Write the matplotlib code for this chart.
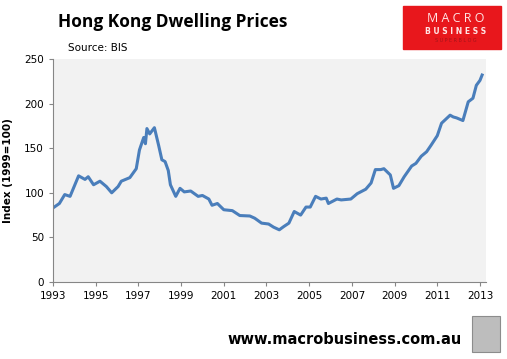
import numpy as np
import matplotlib.pyplot as plt
from matplotlib.patches import Rectangle

# Hong Kong dwelling price index (1999=100)
years = [1993.0, 1993.3, 1993.55, 1993.8, 1994.2, 1994.5, 1994.65, 1994.9,
         1995.2, 1995.5, 1995.75, 1996.05, 1996.2, 1996.6, 1996.9, 1997.05,
         1997.25, 1997.33, 1997.4, 1997.53, 1997.75, 1997.95, 1998.1, 1998.25,
         1998.4, 1998.5, 1998.75, 1998.95, 1999.15, 1999.45, 1999.8, 2000.0,
         2000.3, 2000.45, 2000.7, 2001.0, 2001.4, 2001.75, 2002.22, 2002.45,
         2002.77, 2003.1, 2003.33, 2003.6, 2003.8, 2004.05, 2004.3, 2004.6,
         2004.85, 2005.05, 2005.3, 2005.55, 2005.8, 2005.9, 2006.3, 2006.5,
         2006.95, 2007.25, 2007.65, 2007.9, 2008.1, 2008.35, 2008.5, 2008.8,
         2008.95, 2009.2, 2009.45, 2009.8, 2010.0, 2010.25, 2010.5, 2010.7,
         2011.0, 2011.2, 2011.6, 2011.75, 2011.9, 2012.2, 2012.45, 2012.67,
         2012.83, 2013.0, 2013.1]
index = [83, 88, 98, 96, 119, 115, 118, 109,
         113, 107, 100, 107, 113, 117, 127, 148,
         162, 155, 172, 166, 173, 153, 137, 135,
         125, 109, 96, 105, 101, 102, 96, 97,
         93, 86, 88, 81, 80, 74.5, 74, 71.5,
         66, 65, 61.5, 58.5, 62, 66, 79, 75,
         84, 84, 96, 93, 94, 88, 93, 92,
         93, 99, 104, 111, 126, 126, 127, 120,
         105, 108, 118, 130, 133, 141, 146, 153,
         164, 178, 187, 185, 184, 181, 202, 206,
         220.5, 226, 232]

xticks = list(range(1993, 2014, 2))
yticks = [0, 50, 100, 150, 200, 250]

fig = plt.figure(figsize=(5.07, 3.59), dpi=100)
ax = fig.add_axes([0.1045, 0.2145, 0.854, 0.6212])
ax.set_facecolor('#F2F2F2')

ax.plot(years, index, color='#4A7EBB', lw=2.2, solid_joinstyle='round')

ax.set_xlim(1993, 2013.28)
ax.set_ylim(0, 250)
ax.set_xticks(xticks)
ax.set_yticks(yticks)
ax.tick_params(colors='#868686', labelcolor='black', labelsize=7.5,
               length=3, width=0.8)
for s in ['top', 'right']:
    ax.spines[s].set_visible(False)
for s in ['left', 'bottom']:
    ax.spines[s].set_color('#868686')
ax.set_ylabel('Index (1999=100)', fontsize=7.5, fontweight='bold', labelpad=8)

fig.text(0.114, 0.938, 'Hong Kong Dwelling Prices', fontsize=12.5,
         fontweight='bold', va='center', family='Open Sans')
fig.text(0.134, 0.866, 'Source: BIS', fontsize=7.5, va='center')

# MacroBusiness logo
fig.patches.append(Rectangle((403 / 507, 1 - 49 / 359), 98 / 507, 43 / 359,
                             transform=fig.transFigure, color='#E8171C'))
fig.text(456 / 507, 1 - 19 / 359, 'M A C R O', color='#FFE5E5', fontsize=9,
         ha='center', va='center', family='Open Sans')
fig.text(456 / 507, 1 - 31 / 359, 'B U S I N E S S', color='#FFE5E5',
         fontsize=5.5, ha='center', va='center', fontweight='bold')
fig.text(456 / 507, 1 - 40 / 359, 'S U P E R B L O G', color='#A5141A',
         fontsize=3.5, ha='center', va='center')

fig.text(462 / 507, 1 - 340 / 359, 'www.macrobusiness.com.au', fontsize=10.5,
         fontweight='bold', ha='right', va='center')
fig.patches.append(Rectangle((472 / 507, 1 - 352 / 359), 28 / 507, 36 / 359,
                             transform=fig.transFigure, facecolor='#BDBDBD',
                             edgecolor='#8C8C8C', lw=0.8))

fig.savefig('out.png', dpi=100)
